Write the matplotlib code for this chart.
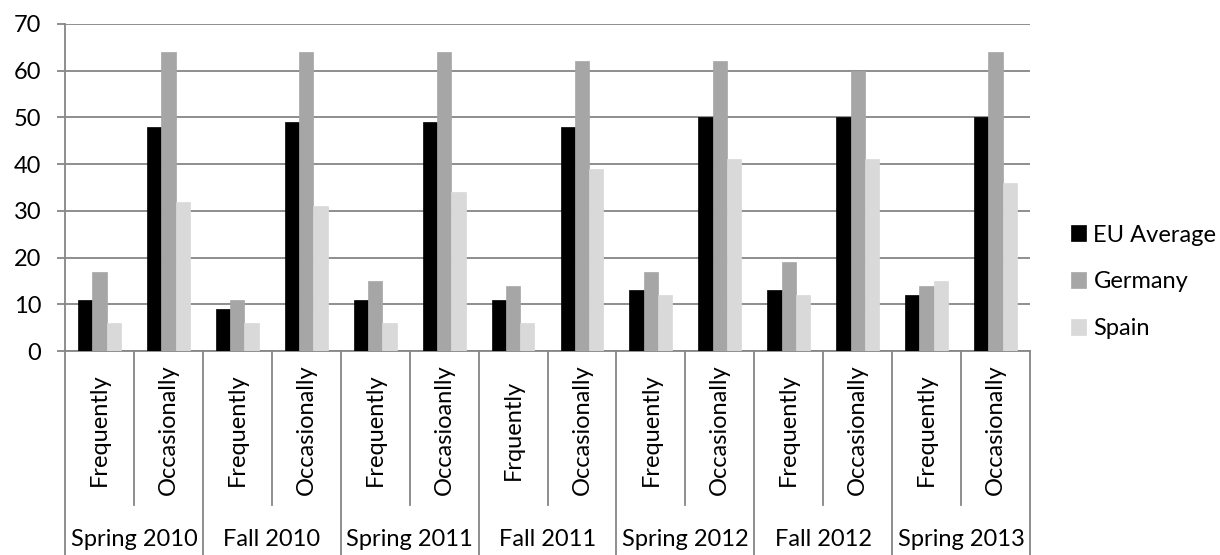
import matplotlib
matplotlib.use("Agg")
import matplotlib.pyplot as plt
import numpy as np
from matplotlib.transforms import blended_transform_factory

plt.rcParams['font.family'] = ['Lato', 'DejaVu Sans']

groups = ["Spring 2010", "Fall 2010", "Spring 2011", "Fall 2011", "Spring 2012", "Fall 2012", "Spring 2013"]
categories = ["Frequently", "Occasionally", "Frequently", "Occasionally", "Frequently", "Occasioanlly",
              "Frquently", "Occasionally", "Frequently", "Occasionally", "Frequently", "Occasionally",
              "Frequently", "Occasionally"]
eu_average = [11, 48, 9, 49, 11, 49, 11, 48, 13, 50, 13, 50, 12, 50]
germany = [17, 64, 11, 64, 15, 64, 14, 62, 17, 62, 19, 60, 14, 64]
spain = [6, 32, 6, 31, 6, 34, 6, 39, 12, 41, 12, 41, 15, 36]
series_names = ["EU Average", "Germany", "Spain"]
colors = ["#000000", "#A6A6A6", "#D9D9D9"]
yticks = [0, 10, 20, 30, 40, 50, 60, 70]

FS = 17
W, H = 1220, 555
fig = plt.figure(figsize=(W / 100, H / 100), dpi=100)
L, R, T, B = 65, 1030, 24, 351
ax = fig.add_axes([L / W, 1 - B / H, (R - L) / W, (B - T) / H])

n = len(categories)
x = np.arange(n)
bw = 0.207
for i, (vals, c, name) in enumerate(zip([eu_average, germany, spain], colors, series_names)):
    ax.bar(x + (i - 1) * bw, vals, width=bw, color=c, label=name, zorder=3,
           edgecolor=c, linewidth=0.5)

ax.set_xlim(-0.5, n - 0.5)
ax.set_ylim(0, 70)
ax.set_yticks(yticks)
ax.yaxis.grid(True, color="#868686", linewidth=1.3, zorder=0)
ax.set_axisbelow(True)
for s in ["top", "right"]:
    ax.spines[s].set_visible(False)
for s in ["left", "bottom"]:
    ax.spines[s].set_color("#868686")
    ax.spines[s].set_linewidth(1.3)
ax.tick_params(axis="y", length=6, width=1.3, color="#868686", labelsize=FS, pad=11)
ax.set_xticks([])

# category table below axis
tr = blended_transform_factory(ax.transData, fig.transFigure)
y_top = 1 - B / H
y_mid = 1 - 505 / H
y_bot = 0.0
for k in range(n + 1):
    xb = k - 0.5
    if k % 2 == 0:
        ax.plot([xb, xb], [y_top, y_bot], transform=tr, color="#868686", lw=1.3, clip_on=False)
    else:
        ax.plot([xb, xb], [y_top, y_mid], transform=tr, color="#868686", lw=1.3, clip_on=False)

y_cat = 1 - 430 / H
for k, lab in enumerate(categories):
    ax.text(k, y_cat, lab, transform=tr, rotation=90, ha="center", va="center", fontsize=FS)

y_grp = 1 - 539 / H
for g, lab in enumerate(groups):
    ax.text(2 * g + 0.5, y_grp, lab, transform=tr, ha="center", va="center", fontsize=FS)

leg = fig.legend(loc="center left", bbox_to_anchor=(1071 / W, 1 - 282 / H), frameon=False,
                 fontsize=FS, handlelength=0.65, handleheight=0.65, handletextpad=0.3,
                 labelspacing=1.1, borderaxespad=0, borderpad=0)

fig.savefig("out.png", dpi=100)
